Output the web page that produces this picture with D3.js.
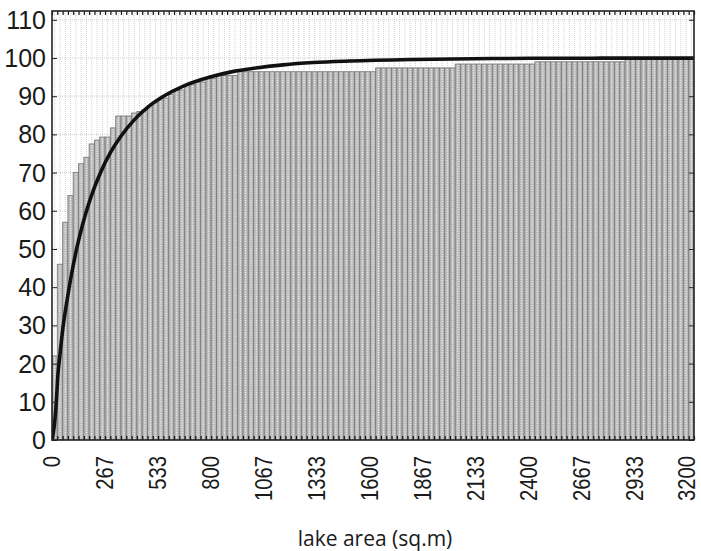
<!DOCTYPE html>
<html>
<head>
<meta charset="utf-8">
<script src="https://cdn.jsdelivr.net/npm/d3@7"></script>
<style>
  html, body { margin: 0; padding: 0; background: #fff; }
  svg { display: block; }
</style>
</head>
<body>
<div id="chart"></div>
<script>
// ---------- data ----------
const binWidth = 3200 / 120;
const binCenters = d3.range(0, 121).map(i => i * binWidth);
const cumPercent = [
  22, 46, 57, 64, 70, 72.3, 74, 77.5, 78.5, 79.3,
  79.3, 81.7, 84.8, 84.8, 84.8, 85.6, 86, 86.5, 87.5, 88.3,
  89, 89.5, 90.5, 91.6, 91.6, 93, 93, 93.7, 93.7, 94.6,
  94.6, 95.4, 95.4, 95.4, 95.4,
  96.4, 96.4, 96.4, 96.4, 96.4, 96.4, 96.4, 96.4, 96.4, 96.4,
  96.4, 96.4, 96.4, 96.4, 96.4, 96.4, 96.4, 96.4, 96.4, 96.4,
  96.4, 96.4, 96.4, 96.4, 96.4, 96.4,
  97.4, 97.4, 97.4, 97.4, 97.4, 97.4, 97.4, 97.4, 97.4, 97.4,
  97.4, 97.4, 97.4, 97.4, 97.4,
  98.4, 98.4, 98.4, 98.4, 98.4, 98.4, 98.4, 98.4, 98.4, 98.4,
  98.4, 98.4, 98.4, 98.4, 98.4,
  99.0, 99.0, 99.0, 99.0, 99.0, 99.0, 99.0, 99.0, 99.0, 99.0,
  99.0, 99.0, 99.0, 99.0, 99.0, 99.0, 99.0,
  99.6, 99.6, 99.6, 99.6, 99.6, 99.6, 99.6, 99.6, 99.6, 99.6,
  99.6, 99.6, 99.6
];
const fitX = [-12, 5, 10, 17, 25, 42, 60, 80, 112, 140, 168, 200, 233, 280, 333, 400, 470, 545, 650, 781, 900, 1000, 1148, 1300, 1485, 1800, 2200, 2700, 3213];
const fitY = [0, 7.5, 11.5, 17.5, 21.5, 29.5, 35.8, 42, 50.4, 56.3, 61.3, 66.1, 70.3, 75.2, 79.5, 83.8, 87.2, 89.9, 92.7, 95, 96.5, 97.3, 98.2, 98.8, 99.2, 99.6, 99.86, 99.95, 99.97];
const xTickValues = d3.range(0, 13).map(i => i * 3200 / 12);
const xTickLabels = ["0","267","533","800","1067","1333","1600","1867","2133","2400","2667","2933","3200"];
const yTickValues = [0,10,20,30,40,50,60,70,80,90,100,110];
const xTitle = "lake area (sq.m)";

// ---------- layout ----------
const W = 701, H = 551;
const pL = 52, pR = 694, pT = 11, pB = 440;

const svg = d3.select("#chart").append("svg").attr("width", W).attr("height", H);

const x = d3.scaleLinear().domain([-binWidth / 2, 3200 + binWidth / 2]).range([pL, pR]);
const y = d3.scaleLinear().domain([0, 112.3]).range([pB, pT]);

svg.append("defs").append("clipPath").attr("id", "clip")
  .append("rect").attr("x", pL).attr("y", pT).attr("width", pR - pL).attr("height", pB - pT);

// gridlines
const grid = svg.append("g");
grid.selectAll("line.vg").data(binCenters).join("line").attr("class", "vg")
  .attr("x1", d => x(d)).attr("x2", d => x(d))
  .attr("y1", pT).attr("y2", pB)
  .attr("stroke", "#c4c4c4").attr("stroke-width", 0.8).attr("stroke-dasharray", "1,1");
grid.selectAll("line.hg").data(yTickValues.slice(1)).join("line").attr("class", "hg")
  .attr("x1", pL).attr("x2", pR)
  .attr("y1", d => y(d)).attr("y2", d => y(d))
  .attr("stroke", "#c4c4c4").attr("stroke-width", 0.8).attr("stroke-dasharray", "1,1");

// bars
const bars = svg.append("g").attr("clip-path", "url(#clip)");
const data = binCenters.map((c, i) => ({ c, v: cumPercent[i] }));
bars.selectAll("rect").data(data).join("rect")
  .attr("x", d => x(d.c - binWidth / 2))
  .attr("width", d => x(d.c + binWidth / 2) - x(d.c - binWidth / 2))
  .attr("y", d => y(d.v))
  .attr("height", d => y(0) - y(d.v))
  .attr("fill", "#b9b9b9")
  .attr("stroke", "#7e7e7e")
  .attr("stroke-width", 0.9);
bars.selectAll("line").data(data).join("line")
  .attr("x1", d => x(d.c)).attr("x2", d => x(d.c))
  .attr("y1", d => y(d.v) + 1).attr("y2", y(0))
  .attr("stroke", "#ececec").attr("stroke-width", 1.3).attr("stroke-dasharray", "1.2,1.2");

// fitted curve
const fit = fitX.map((d, i) => [d, fitY[i]]);
svg.append("path").datum(fit)
  .attr("clip-path", "url(#clip)")
  .attr("fill", "none").attr("stroke", "#111").attr("stroke-width", 3.6)
  .attr("stroke-linejoin", "round")
  .attr("d", d3.line().x(d => x(d[0])).y(d => y(d[1])).curve(d3.curveMonotoneX));

// axes
const edges = d3.range(0, 122).map(i => -binWidth / 2 + i * binWidth);
const axBottom = d3.axisBottom(x).tickValues(edges).tickSize(-4).tickFormat("");
const axTop = d3.axisTop(x).tickValues(edges).tickSize(-4).tickFormat("");
svg.append("g").attr("transform", `translate(0,${pB})`).call(axBottom)
  .call(g => g.select(".domain").remove())
  .selectAll("line").attr("stroke", "#111").attr("stroke-width", 1.2);
svg.append("g").attr("transform", `translate(0,${pT})`).call(axTop)
  .call(g => g.select(".domain").remove())
  .selectAll("line").attr("stroke", "#111").attr("stroke-width", 1.2);

const axLeft = d3.axisLeft(y).tickValues(yTickValues).tickSize(-5).tickFormat(d3.format("d"));
const gl = svg.append("g").attr("transform", `translate(${pL},0)`).call(axLeft);
gl.select(".domain").remove();
gl.selectAll("line").attr("stroke", "#222");
gl.selectAll("text").attr("font-family", "'Liberation Sans', Arial, sans-serif")
  .attr("font-size", 25).attr("fill", "#1a1a1a").attr("x", -6).attr("dy", "0.34em");

const axRight = d3.axisRight(y).tickValues(yTickValues).tickSize(-5).tickFormat("");
svg.append("g").attr("transform", `translate(${pR},0)`).call(axRight)
  .call(g => g.select(".domain").remove())
  .selectAll("line").attr("stroke", "#222");

// x tick labels
const xl = svg.append("g");
xl.selectAll("text").data(xTickValues).join("text")
  .attr("transform", d => `translate(${Math.min(x(d) + 5, W - 6)},456) rotate(-90) scale(0.88,1)`)
  .attr("text-anchor", "end")
  .attr("font-family", "'Liberation Sans', Arial, sans-serif")
  .attr("font-size", 23).attr("fill", "#1a1a1a")
  .text((d, i) => xTickLabels[i]);

// frame
svg.append("rect").attr("x", pL).attr("y", pT).attr("width", pR - pL).attr("height", pB - pT)
  .attr("fill", "none").attr("stroke", "#222").attr("stroke-width", 1.6);

// x title
svg.append("text").attr("x", 375).attr("y", 546).attr("text-anchor", "middle")
  .attr("font-family", "'Open Sans', sans-serif").attr("font-size", 21).attr("fill", "#1a1a1a")
  .text(xTitle);
</script>
</body>
</html>
